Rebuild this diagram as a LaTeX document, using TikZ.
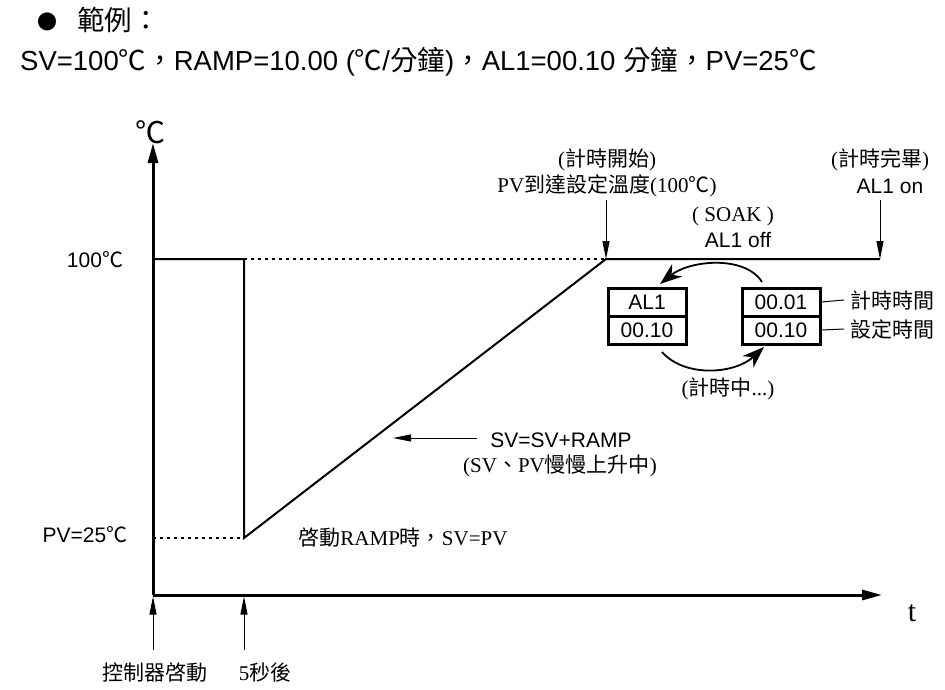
\documentclass[tikz,border=0pt]{standalone}
\usepackage{fontspec}
\setmainfont{Liberation Sans}
\newfontfamily\cjk{Noto Sans CJK TC}
\newfontfamily\rs{Liberation Serif}
\usetikzlibrary{arrows.meta}
\tikzset{
  axisline/.style={line width=3pt, -{Triangle[length=20pt,width=10pt]}},
  curveline/.style={line width=2pt},
  dotline/.style={line width=2pt, dash pattern=on 3pt off 4pt},
  ptr/.style={line width=1pt, -{Triangle[length=18pt,width=7pt]}},
  lbl/.style={inner sep=0pt, font=\fontsize{21}{24}\selectfont},
  biglbl/.style={inner sep=0pt, font=\fontsize{27.5}{32}\selectfont},
  axlbl/.style={inner sep=0pt, font=\fontsize{30}{34}\selectfont},
  cell/.style={draw, line width=3pt, minimum width=78pt, minimum height=28pt, inner sep=0pt, font=\fontsize{21}{24}\selectfont},
  cyc/.style={line width=1.8pt, -{Stealth[length=22pt,width=16pt]}},
  tick/.style={line width=1pt}
}
\begin{document}
\begin{tikzpicture}[x=1pt,y=-1pt]
\useasboundingbox (0,0) rectangle (945,690);
% key points
\coordinate (O) at (153,595);
\coordinate (ytop) at (153,143);
\coordinate (xend) at (882,595);
\coordinate (H0) at (153,259);
\coordinate (H1) at (244,259);
\coordinate (L1) at (244,538);
\coordinate (L0) at (153,538);
\coordinate (P) at (606,259);
\coordinate (E) at (880,259);
\coordinate (B5) at (244,595);
% axes
\draw[axisline] (O) -- (ytop);
\draw[axisline] (O) -- (xend);
% curve
\draw[curveline] (H0) -- (H1) -- (L1) -- (P) -- (E);
\draw[dotline] (H1) -- (P);
\draw[dotline] (L0) -- (L1);
% axis labels
\node[axlbl] (deg) at (150,132) {\cjk ℃};
\node[axlbl] (tlab) at (912,613) {\rs t};
\node[lbl] (l100) at (95,260) {100{\cjk ℃}};
\node[lbl] (l25) at (85,535) {PV=25{\cjk ℃}};
% top labels
\node[lbl] (ts1) at (607,160) {\rs(\cjk 計時開始\rs)};
\node[lbl] (ts2) at (607,186) {\rs PV\cjk 到達設定溫度\rs(100\cjk ℃\rs)};
\coordinate (a1) at (606,200);
\draw[ptr] (a1) -- (P);
\node[lbl] (te1) at (880,160) {\rs(\cjk 計時完畢\rs)};
\node[lbl] (te2) at (890,186) {AL1 on};
\coordinate (a2) at (880,200);
\draw[ptr] (a2) -- (E);
\node[lbl] (soak) at (733,216) {\rs( SOAK )};
\node[lbl] (off) at (738,240) {AL1 off};
% boxes
\node[cell] (b1a) at (647,302) {AL1};
\node[cell] (b1b) at (647,330) {00.10};
\node[cell] (b2a) at (781,302) {00.01};
\node[cell] (b2b) at (781,330) {00.10};
\node[lbl, anchor=west] (tl1) at (850,300) {\cjk 計時時間};
\node[lbl, anchor=west] (tl2) at (850,329) {\cjk 設定時間};
\draw[tick] (b2a.east) -- ([xshift=-6pt]tl1.west);
\draw[tick] (b2b.east) -- ([xshift=-6pt]tl2.west);
% cycle arrows
\coordinate (c1s) at (762,282);
\coordinate (c1e) at (660,284);
\coordinate (c2s) at (662,352);
\coordinate (c2e) at (764,347);
\draw[cyc] (c1s) .. controls (745,255) and (690,260) .. (c1e);
\draw[cyc] (c2s) .. controls (685,378) and (735,374) .. (c2e);
\node[lbl] (run) at (728,389) {\rs(\cjk 計時中\rs...)};
% ramp note
\coordinate (sa) at (477,438);
\coordinate (sb) at (393,438);
\draw[ptr] (sa) -- (sb);
\node[lbl] (sv1) at (561,440) {SV=SV+RAMP};
\node[lbl] (sv2) at (560,466) {\rs(SV\cjk 、\rs PV\cjk 慢慢上升中\rs)};
\node[lbl] (st) at (403,538) {\cjk 啓動\rs RAMP\cjk 時，\rs SV=PV};
% bottom markers
\coordinate (c0) at (153,650);
\coordinate (c5) at (244,650);
\draw[ptr, shorten >=1.5pt] (c0) -- (O);
\draw[ptr, shorten >=1.5pt] (c5) -- (B5);
\node[lbl] (ctl) at (155,673) {\cjk 控制器啓動};
\node[lbl] (five) at (265,673) {\rs 5\cjk 秒後};
% header
\node[inner sep=0pt, font=\fontsize{20}{24}\selectfont] (bul) at (47,22) {\cjk ●};
\node[biglbl, anchor=west] (title) at (77,20) {\cjk 範例：};
\node[biglbl, anchor=west] (ex) at (20,62) {SV=100{\cjk ℃，}RAMP=10.00 ({\cjk ℃}/{\cjk 分鐘}){\cjk ，}AL1=00.10 {\cjk 分鐘}{\cjk ，}PV=25{\cjk ℃}};
\end{tikzpicture}
\end{document}
